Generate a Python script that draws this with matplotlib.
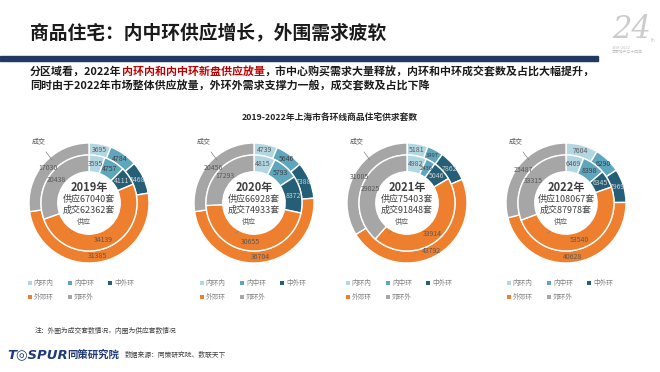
import numpy as np
import matplotlib
matplotlib.use("Agg")
import matplotlib.pyplot as plt
from matplotlib.patches import Rectangle, Patch

plt.rcParams['font.family'] = ['Noto Sans CJK SC', 'DejaVu Sans']

# data
years = ['2019', '2020', '2021', '2022']
ring_names = ['内环内', '内中环', '中外环', '外郊环', '郊环外']
deal_2019 = [3695, 4784, 5468, 31385, 17030]
supply_2019 = [3595, 4757, 4111, 34139, 20438]
deal_2020 = [4739, 5646, 7388, 36704, 20456]
supply_2020 = [4815, 5793, 8372, 30655, 17293]
deal_2021 = [5181, 3997, 7862, 43792, 31005]
supply_2021 = [4982, 2436, 5046, 33914, 29025]
deal_2022 = [7604, 6290, 7969, 40628, 25487]
supply_2022 = [6469, 8398, 6345, 53540, 33315]
supply_total = [67040, 66928, 75403, 108067]
deal_total = [62362, 74933, 91848, 87978]

deals = [deal_2019, deal_2020, deal_2021, deal_2022]
supplies = [supply_2019, supply_2020, supply_2021, supply_2022]

colors = ['#b3d6e3', '#5ea5be', '#245f77', '#ee7f2e', '#a6a6a6']
label_colors = ['#595959', '#404040', '#d0d0d0', '#595959', '#595959']

W, H = 660, 372
fig = plt.figure(figsize=(W / 100, H / 100), dpi=100)
fig.patch.set_facecolor('white')

def fx(px):
    return px / W

def fy(py):
    return 1 - py / H

# header
fig.text(fx(30), fy(34), '商品住宅：内中环供应增长，外围需求疲软', fontsize=13.5,
         fontweight='bold', color='#1a1a1a', va='center', ha='left')
fig.patches.append(Rectangle((0, fy(61)), fx(598), 5 / H, transform=fig.transFigure,
                             color='#1f3864', zorder=1))

# "24th" mark top right
fig.text(fx(612), fy(30), '24', fontsize=22, style='italic', family='DejaVu Serif',
         color='#cccccc', va='center', ha='left')
fig.text(fx(651), fy(40), 'th', fontsize=3.5, color='#cccccc', va='center')
fig.text(fx(612), fy(50), '1998-2022\n同策地产二十四年', fontsize=2.8, color='#c0c0c0',
         va='center', linespacing=1.2)

# subtitle with red part
renderer = fig.canvas.get_renderer()
parts = [('分区域看，2022年', '#1a1a1a'), ('内环内和内中环新盘供应放量', '#c00000'),
         ('，市中心购买需求大量释放，内环和中环成交套数及占比大幅提升，', '#1a1a1a')]
x = fx(30)
for s, c in parts:
    t = fig.text(x, fy(72), s, fontsize=7.9, fontweight='bold', color=c, va='center', ha='left')
    bb = t.get_window_extent(renderer=renderer)
    x = bb.x1 / fig.bbox.width
fig.text(fx(30), fy(86), '同时由于2022年市场整体供应放量，外环外需求支撑力一般，成交套数及占比下降',
         fontsize=7.9, fontweight='bold', color='#1a1a1a', va='center', ha='left')

fig.text(0.5, fy(118), '2019-2022年上海市各环线商品住宅供求套数', fontsize=6.3,
         fontweight='bold', color='#262626', ha='center', va='center')

centers = [(89, 203), (254, 203), (407, 203), (566, 203)]
legend_x = [28, 200, 346, 507]
box = 150

for i in range(4):
    cx, cy = centers[i]
    ax = fig.add_axes([fx(cx - box / 2), fy(cy + box / 2), box / W, box / H])
    out_w, _ = ax.pie(deals[i], radius=1, colors=colors, startangle=90, counterclock=False,
                      wedgeprops=dict(width=0.2, edgecolor='white', linewidth=1.0))
    in_w, _ = ax.pie(supplies[i], radius=0.8, colors=colors, startangle=90, counterclock=False,
                     wedgeprops=dict(width=0.28, edgecolor='white', linewidth=1.0))
    for wedges, vals in [(out_w, deals[i]), (in_w, supplies[i])]:
        total = sum(vals)
        for k, (w, v) in enumerate(zip(wedges, vals)):
            ang = np.deg2rad((w.theta1 + w.theta2) / 2)
            r = w.r - w.width / 2
            fs = 4.2 if v / total < 0.045 else 5
            ax.text(r * np.cos(ang), r * np.sin(ang), str(v), fontsize=fs,
                    color=label_colors[k], ha='center', va='center')
    ax.text(0, 0.25, years[i] + '年', fontsize=8, fontweight='bold', color='#404040',
            ha='center', va='center')
    ax.text(0, 0.06, '供应%d套' % supply_total[i], fontsize=6.5, color='#404040',
            ha='center', va='center')
    ax.text(0, -0.12, '成交%d套' % deal_total[i], fontsize=6.5, color='#404040',
            ha='center', va='center')
    ax.annotate('成交', xy=(-0.62, 0.72), xytext=(-0.84, 1.02), fontsize=5, color='#595959',
                ha='center', va='center',
                arrowprops=dict(arrowstyle='-', color='#7f7f7f', lw=0.5, shrinkA=3, shrinkB=0))
    ax.annotate('供应', xy=(-0.3, -0.5), xytext=(-0.08, -0.31), fontsize=5, color='#595959',
                ha='center', va='center',
                arrowprops=dict(arrowstyle='-', color='#7f7f7f', lw=0.5, shrinkA=3, shrinkB=0))
    ax.set_xlim(-1.25, 1.25)
    ax.set_ylim(-1.25, 1.25)
    ax.set_aspect('equal')
    ax.axis('off')

    handles = [Patch(facecolor=c, edgecolor='none', label=n) for c, n in zip(colors, ring_names)]
    order = [0, 3, 1, 4, 2]
    fig.legend([handles[j] for j in order], [ring_names[j] for j in order],
               loc='upper left', bbox_to_anchor=(fx(legend_x[i]), fy(279)), ncol=3,
               frameon=False, fontsize=4.8, labelcolor='#808080', handlelength=0.55,
               handleheight=0.55, handletextpad=0.3, columnspacing=2.2, labelspacing=0.9,
               borderaxespad=0, borderpad=0)

fig.text(fx(35), fy(331), '注：外圈为成交套数情况，内圈为供应套数情况', fontsize=4.9,
         color='#404040', va='center')
fig.text(fx(7), fy(355), 'T\u25CESPUR', fontsize=9.5, fontweight='bold', style='italic',
         color='#1f3a78', va='center', family='DejaVu Sans')
fig.text(fx(67), fy(355), '同策研究院', fontsize=7.5, fontweight='bold', style='italic',
         color='#1f3a78', va='center')
fig.text(fx(125), fy(355), '数据来源：同策研究院、数联天下', fontsize=4.9,
         color='#404040', va='center')

fig.savefig('out.png', dpi=100, facecolor='white')
